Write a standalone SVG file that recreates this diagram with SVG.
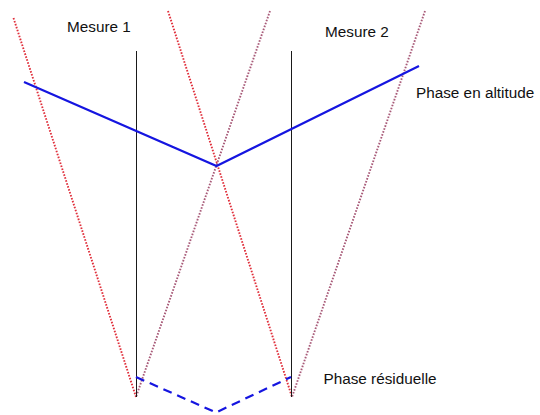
<svg xmlns="http://www.w3.org/2000/svg" width="540" height="415" viewBox="0 0 540 415">
<style>
.lbl{font-family:"Liberation Sans",Arial,sans-serif;font-size:15.3px;fill:#111}
.rayA{stroke:#e0303c;stroke-width:1.9;stroke-dasharray:1.6 1.5;fill:none}
.rayB{stroke:#a85a78;stroke-width:1.9;stroke-dasharray:1.6 1.5;fill:none}
.meas{stroke:#1a1a1a;stroke-width:1;fill:none}
.phase{stroke:#1515e0;stroke-width:2.2;fill:none}
.resid{stroke:#1515e0;stroke-width:2.2;stroke-dasharray:9 6;fill:none}
</style>
<rect width="540" height="415" fill="#fff"/>
<g id="connectors">
<line class="rayA" x1="13.5" y1="18" x2="136" y2="397"/>
<line class="rayA" x1="168" y1="11" x2="292" y2="397"/>
<line class="rayB" x1="270" y1="11" x2="136" y2="397"/>
<line class="rayB" x1="425" y1="11" x2="292" y2="397"/>
</g>
<g id="mesure1">
<line class="meas" x1="136.5" y1="51" x2="136.5" y2="397"/>
<text class="lbl" x="67" y="31.5">Mesure 1</text>
</g>
<g id="mesure2">
<line class="meas" x1="291.5" y1="51" x2="291.5" y2="397"/>
<text class="lbl" x="325" y="36.5">Mesure 2</text>
</g>
<g id="phase-altitude">
<polyline class="phase" points="24,82 216.5,166 419,66"/>
<text class="lbl" x="416" y="97.5">Phase en altitude</text>
</g>
<g id="phase-residuelle">
<polyline class="resid" points="136,377 216,412.5 291,377"/>
<text class="lbl" x="323.5" y="384">Phase résiduelle</text>
</g>
</svg>
